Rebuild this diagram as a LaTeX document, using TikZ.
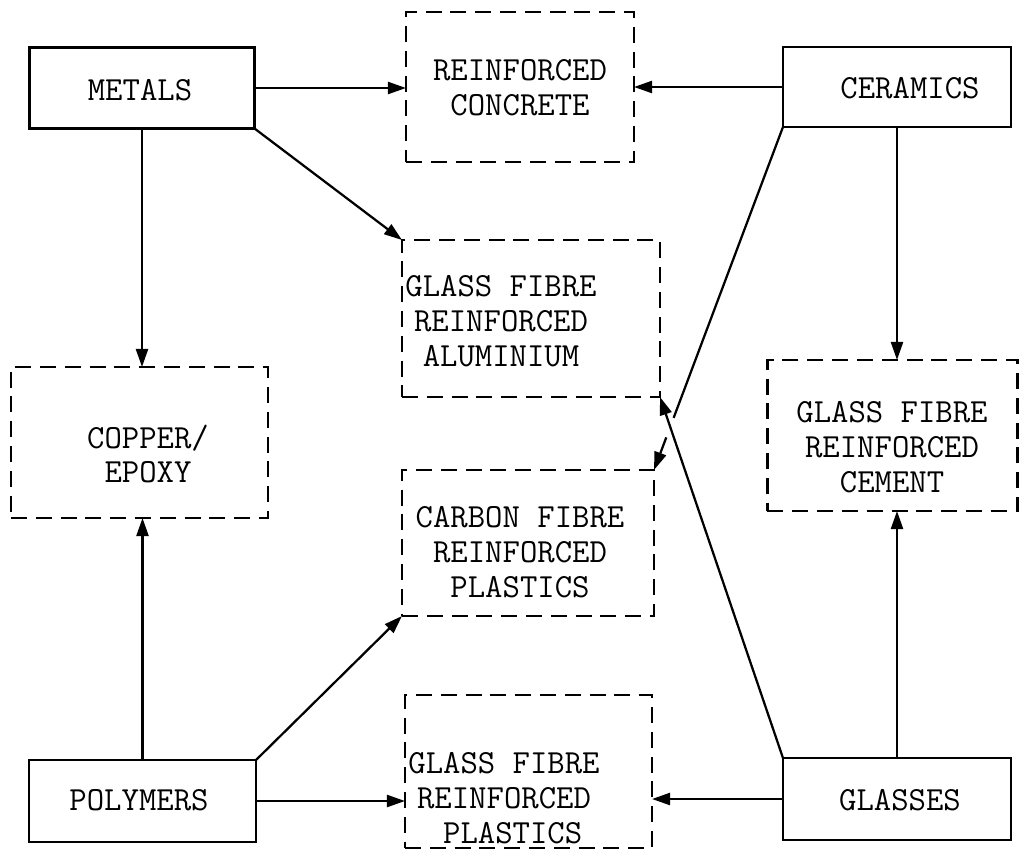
\documentclass[tikz,border=0pt]{standalone}
\usepackage{fontspec}
\usetikzlibrary{arrows.meta,calc}
\begin{document}
\begin{tikzpicture}[x=0.025cm,y=-0.025cm,
  every node/.style={inner sep=0pt, outer sep=0pt},
  txt/.style={font=\ttfamily\fontsize{24}{24.8}\selectfont, align=center},
  solidbox/.style={draw, line width=2pt},
  dashbox/.style={draw, line width=1.8pt, dash pattern=on 0.4cm off 0.22cm},
  conn/.style={line width=1.6pt, -{Triangle[length=0.45cm,width=0.3cm]}},
  plainline/.style={line width=1.6pt}]
\useasboundingbox (0,0) rectangle (1019,849);

% solid boxes
\node[solidbox, minimum width=5.625cm, minimum height=2.025cm] (metals) at (142,88) {};
\node[solidbox, minimum width=5.7cm, minimum height=2.0cm] (ceramics) at (897,87) {};
\node[solidbox, minimum width=5.675cm, minimum height=2.05cm] (polymers) at (142.5,801) {};
\node[solidbox, minimum width=5.7cm, minimum height=2.05cm] (glasses) at (897,799) {};

% dashed boxes
\node[dashbox, minimum width=5.7cm, minimum height=3.75cm] (concrete) at (520,87) {};
\node[dashbox, minimum width=6.45cm, minimum height=3.925cm] (gfral) at (531,318.5) {};
\node[dashbox, minimum width=6.425cm, minimum height=3.775cm] (copper) at (139.5,442.5) {};
\node[dashbox, minimum width=6.3cm, minimum height=3.65cm] (cfrp) at (528,543) {};
\node[dashbox, minimum width=6.25cm, minimum height=3.775cm] (cement) at (892.5,435.5) {};
\node[dashbox, minimum width=6.175cm, minimum height=3.825cm] (gfrp) at (528.5,771.5) {};

% texts
\node[txt] (t-metals) at (140,90) {METALS};
\node[txt] (t-ceramics) at (910,88) {CERAMICS};
\node[txt] (t-polymers) at (139,800) {POLYMERS};
\node[txt] (t-glasses) at (900,800) {GLASSES};
\node[txt] (t-concrete) at (520,88) {REINFORCED\\CONCRETE};
\node[txt] (t-gfral) at (501,321) {GLASS FIBRE\\REINFORCED\\ALUMINIUM};
\node[txt] (t-copper) at (148,454) {COPPER/\\EPOXY};
\node[txt] (t-cfrp) at (520,552) {CARBON FIBRE\\REINFORCED\\PLASTICS};
\node[txt] (t-cement) at (892,447) {GLASS FIBRE\\REINFORCED\\CEMENT};
\node[txt] (t-gfrp) at (504,798) {GLASS FIBRE\\REINFORCED\\\hphantom{P}PLASTICS};

% connectors
\draw[conn] (metals.east) -- (metals.east -| concrete.west);
\draw[conn] (ceramics.west) -- (ceramics.west -| concrete.east);
\draw[conn] (metals.south east) -- (gfral.north west);
\draw[conn] (metals.south) -- (metals.south |- copper.north);
\draw[conn] (polymers.north) -- (polymers.north |- copper.south);
\draw[conn] (polymers.north east) -- (cfrp.south west);
\draw[conn] (polymers.east) -- (polymers.east -| gfrp.west);
\draw[conn] (glasses.west) -- (glasses.west -| gfrp.east);
\draw[conn] (glasses.north) -- (glasses.north |- cement.south);
\draw[conn] (ceramics.south) -- (ceramics.south |- cement.north);
\draw[conn] (glasses.north west) -- (gfral.south east);
\path (ceramics.south west) -- (cfrp.north east)
  coordinate[pos=0.848] (gapA) coordinate[pos=0.905] (gapB);
\draw[plainline] (ceramics.south west) -- (gapA);
\draw[conn] (gapB) -- (cfrp.north east);
\end{tikzpicture}
\end{document}
